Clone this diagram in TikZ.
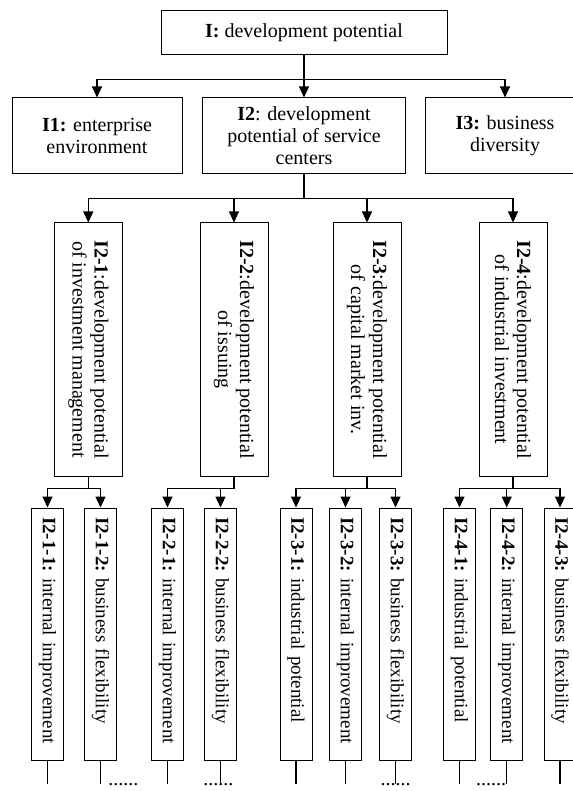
\documentclass[tikz,border=0pt]{standalone}
\usepackage{fontspec}
\setmainfont{Liberation Serif}
\usetikzlibrary{arrows.meta,positioning}
\tikzstyle{box} = [rectangle, draw, line width=1pt, inner sep=0pt, align=center, font=\fontsize{20}{22}\selectfont]
\tikzstyle{topbox} = [box, minimum width=286pt, minimum height=44pt]
\tikzstyle{catbox} = [box, minimum height=76pt]
\tikzstyle{subbox} = [box, rotate=-90, minimum width=253pt, minimum height=68pt]
\tikzstyle{leaf} = [box, rotate=-90, minimum width=252pt, minimum height=32pt, text width=234pt, inner xsep=9pt, align=left, font=\fontsize{19}{21}\selectfont]
\tikzstyle{link} = [line width=1.1pt]
\tikzstyle{dots} = [anchor=base, inner sep=0pt, text depth=0pt, text height=3pt, font=\fontsize{20}{22}\selectfont]
\begin{document}
\begin{tikzpicture}[x=1pt,y=-1pt,>={Triangle[length=11pt,width=10pt]}]
    \useasboundingbox (0,0) rectangle (572,791);

    \node [topbox] (dev) at (304,33) {\textbf{I:} development potential};
    \node [catbox, minimum width=203pt, below=42pt of dev] (svc) {\textbf{I2}: development\\potential of service\\centers};
    \node [catbox, minimum width=170pt, left=19.5pt of svc] (env) {\textbf{I1:} enterprise\\environment};
    \node [catbox, minimum width=160pt, right=18.5pt of svc] (div) {\textbf{I3:} business\\diversity};

    \node [subbox] (inv) at (88.3,349.5) {\textbf{I2-1}:development potential\\of investment management};
    \node [subbox] (iss) at (234,349.5) {\textbf{I2-2}:development potential\\of issuing};
    \node [subbox] (cap) at (367,349.5) {\textbf{I2-3}:development potential\\of capital market inv.};
    \node [subbox] (ind) at (513,349.5) {\textbf{I2-4}:development potential\\of industrial investment};

    \node [leaf] (inv1) at (47.5,634) {\textbf{I2-1-1:}~internal~improvement};
    \node [leaf] (inv2) at (100.5,634) {\textbf{I2-1-2:}~business~flexibility};
    \node [leaf] (iss1) at (167.5,634) {\textbf{I2-2-1:}~internal~improvement};
    \node [leaf] (iss2) at (220.5,634) {\textbf{I2-2-2:}~business~flexibility};
    \node [leaf] (cap1) at (296,634) {\textbf{I2-3-1:}~industrial~potential};
    \node [leaf] (cap2) at (345.5,634) {\textbf{I2-3-2:}~internal~improvement};
    \node [leaf] (cap3) at (395.5,634) {\textbf{I2-3-3:}~business~flexibility};
    \node [leaf] (ind1) at (459.5,634) {\textbf{I2-4-1:}~industrial~potential};
    \node [leaf] (ind2) at (506.7,634) {\textbf{I2-4-2:}~internal~improvement};
    \node [leaf] (ind3) at (560,634) {\textbf{I2-4-3:}~business~flexibility};

    \node [dots] (more1) at (123.3,785) {......};
    \node [dots] (more2) at (218.3,785) {......};
    \node [dots] (more3) at (395.5,785) {......};
    \node [dots] (more4) at (491,785) {......};

     \draw[link](dev.south) -- ++(0,24.3) coordinate (devbus);
     \draw[link,->](devbus) -| (env.north);
     \draw[link,->](devbus) -- (svc.north);
     \draw[link,->](devbus) -| (div.north);

     \draw[link](svc.south) -- ++(0,24) coordinate (svcbus);
     \draw[link,->](svcbus) -| (inv.west);
     \draw[link,->](svcbus) -| (iss.west);
     \draw[link,->](svcbus) -| (cap.west);
     \draw[link,->](svcbus) -| (ind.west);

     \draw[link](inv.east) -- ++(0,12) coordinate (invbus);
     \draw[link,->](invbus) -| (inv1.west);
     \draw[link,->](invbus) -| (inv2.west);
     \draw[link](iss.east) -- ++(0,12) coordinate (issbus);
     \draw[link,->](issbus) -| (iss1.west);
     \draw[link,->](issbus) -| (iss2.west);
     \draw[link](cap.east) -- ++(0,12) coordinate (capbus);
     \draw[link,->](capbus) -| (cap1.west);
     \draw[link,->](capbus) -| (cap2.west);
     \draw[link,->](capbus) -| (cap3.west);
     \draw[link](ind.east) -- ++(0,12) coordinate (indbus);
     \draw[link,->](indbus) -| (ind1.west);
     \draw[link,->](indbus) -| (ind2.west);
     \draw[link,->](indbus) -| (ind3.west);

     % loose ends below the leaves
     \draw[link](inv1.east) -- ++(0,23) coordinate (inv1end);
     \draw[link](inv2.east) -- ++(0,23) coordinate (inv2end);
     \draw[link](iss1.east) -- ++(0,23) coordinate (iss1end);
     \draw[link](iss2.east) -- ++(0,23) coordinate (iss2end);
     \draw[link](cap1.east) -- ++(0,23) coordinate (cap1end);
     \draw[link](cap2.east) -- ++(0,23) coordinate (cap2end);
     \draw[link](cap3.east) -- ++(0,23) coordinate (cap3end);
     \draw[link](ind1.east) -- ++(0,23) coordinate (ind1end);
     \draw[link](ind2.east) -- ++(0,23) coordinate (ind2end);
     \draw[link](ind3.east) -- ++(0,23) coordinate (ind3end);
\end{tikzpicture}
\end{document}
